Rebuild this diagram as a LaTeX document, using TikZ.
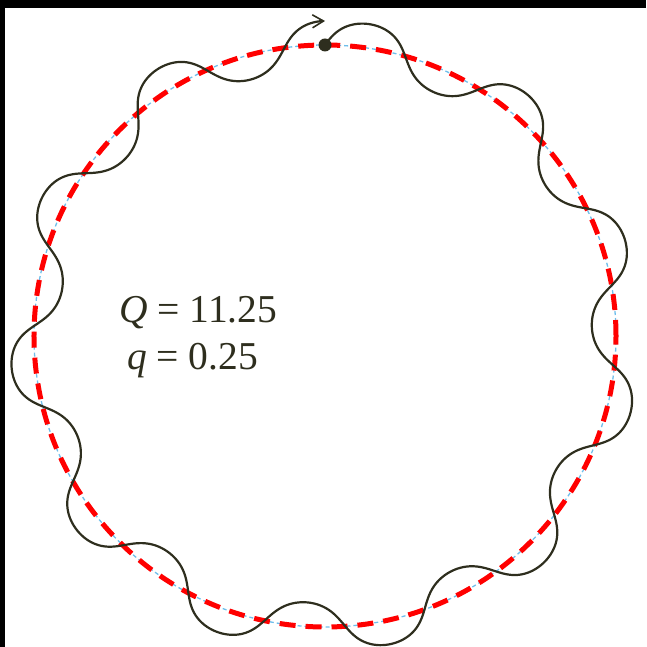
\documentclass[tikz,border=0pt]{standalone}
\usepackage{fontspec}
\setmainfont{Liberation Serif}
\usetikzlibrary{arrows.meta}
\definecolor{ink}{RGB}{46,46,30}
\definecolor{skyref}{RGB}{110,190,235}
\tikzset{
  ideal/.style ={draw=skyref, line width=1.3pt, dash pattern=on 4pt off 3pt},
  ref/.style   ={draw=red, line width=5pt, dash pattern=on 16pt off 10pt},
  orbit/.style ={draw=ink, line width=2.2pt, -{Straight Barb[length=11pt,width=13pt,line width=1.6pt]}},
  tune/.style  ={text=ink, font=\fontsize{39.5}{47}\selectfont, inner sep=0pt, anchor=base west},
}
\begin{document}
\begin{tikzpicture}[x=1pt,y=1pt]
\useasboundingbox (-325,-311) rectangle (321,336);
\fill[black] (-325,328) rectangle (321,336);
\fill[black] (-325,-311) rectangle (-320,336);
\draw[ideal] (0,0) circle (291);
\draw[ref] (0,0) circle (291);
% phase u runs over Q turns; track angle slowed near crossings
\draw[orbit] plot[domain=0:4050, samples=1501]
  ({(291+24*sin(\x))*sin((\x-9.2*sin(2*\x))/11.25)},
   {(291+24*sin(\x))*cos((\x-9.2*sin(2*\x))/11.25)});
\node[circle, fill=ink, minimum size=13pt, inner sep=0pt] (start) at (0,291) {};
\node[tune] (Qval) at (-206,13) {\textit{Q} = 11.25};
\node[tune] (qval) at (-198,-34) {\textit{q} = 0.25};
\end{tikzpicture}
\end{document}
